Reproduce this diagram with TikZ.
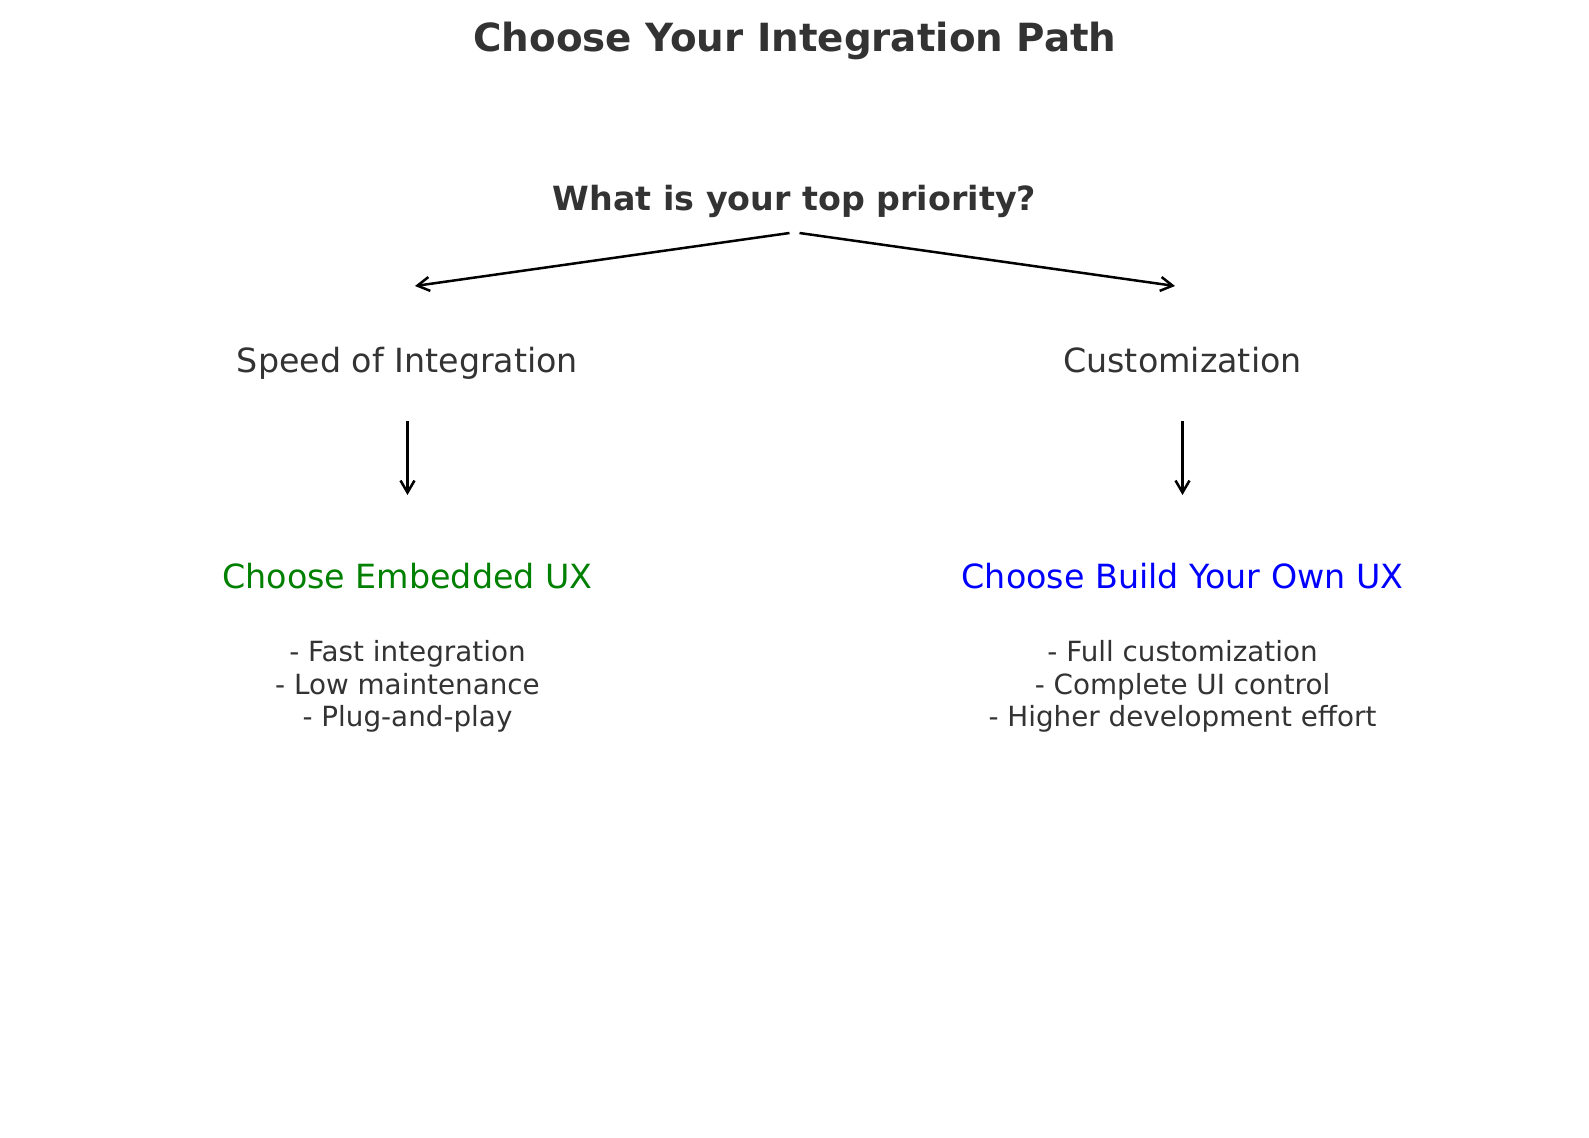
\documentclass[tikz,border=0pt]{standalone}
\usepackage{fontspec}
\setmainfont{DejaVu Sans}
\usetikzlibrary{arrows.meta}
\definecolor{txt}{HTML}{333333}
\definecolor{mplgreen}{RGB}{0,128,0}
\definecolor{mplblue}{RGB}{0,0,255}
\tikzset{
  lbl/.style={inner sep=0pt, anchor=base, text=txt},
  titlefont/.style={font=\fontsize{38.8}{46}\selectfont\bfseries},
  qfont/.style={font=\fontsize{33.3}{40}\selectfont\bfseries},
  midfont/.style={font=\fontsize{33.3}{40}\selectfont},
  listfont/.style={font=\fontsize{27.8}{32.5}\selectfont, align=center},
  conn/.style={line width=2.5pt, -{Straight Barb[length=12pt,width=14pt,line width=2.5pt]}}
}
\begin{document}
\begin{tikzpicture}[x=1pt,y=-1pt]
\useasboundingbox[fill=white] (0,0) rectangle (1589,1137);
\node[lbl,titlefont] (title) at (795,51.5) {Choose Your Integration Path};
\node[lbl,qfont] (q) at (794.5,210) {What is your top priority?};
\node[lbl,midfont] (speed) at (407.5,372) {Speed of Integration};
\node[lbl,midfont] (custom) at (1182.5,372) {Customization};
\node[lbl,midfont,text=mplgreen] (embed) at (407.5,588) {Choose Embedded UX};
\node[lbl,midfont,text=mplblue] (build) at (1182.5,588) {Choose Build Your Own UX};
\node[lbl,listfont] (elist) at (407.5,726.5) {- Fast integration\\- Low maintenance\\- Plug-and-play};
\node[lbl,listfont] (blist) at (1182.5,726.5) {- Full customization\\- Complete UI control\\- Higher development effort};
\draw[conn] ([xshift=-5pt,yshift=-23pt]q.base) -- ([xshift=7.5pt,yshift=86pt]speed.base);
\draw[conn] ([xshift=5pt,yshift=-23pt]q.base) -- ([xshift=-7.5pt,yshift=86pt]custom.base);
\draw[conn] ([yshift=-49pt]speed.base) -- ([yshift=93pt]embed.base);
\draw[conn] ([yshift=-49pt]custom.base) -- ([yshift=93pt]build.base);
\end{tikzpicture}
\end{document}
